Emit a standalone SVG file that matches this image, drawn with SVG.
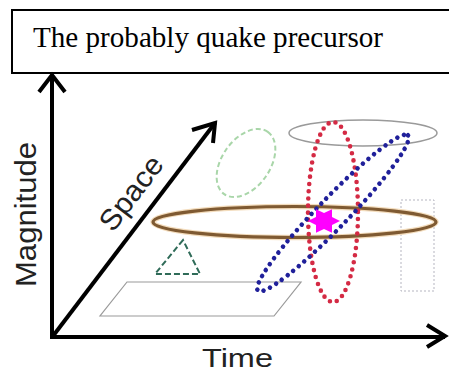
<svg xmlns="http://www.w3.org/2000/svg" width="449" height="372" viewBox="0 0 449 372">
  <style>
    .axis { stroke: #000; stroke-width: 4; fill: none; stroke-linecap: butt; }
    .head { stroke: #000; stroke-width: 4; fill: none; stroke-linejoin: miter; }
    .label { font-family: "Liberation Sans", Arial, sans-serif; fill: #222; }
    .dots { fill: none; stroke-width: 4.6; stroke-linecap: round; stroke-dasharray: 0 7.2; }
  </style>
  <rect width="449" height="372" fill="#fff"/>

  <g id="title">
    <rect x="12" y="10" width="450" height="63" fill="#fff" stroke="#000" stroke-width="2"/>
    <text x="33" y="47" font-family="'Liberation Serif', 'Times New Roman', serif" font-size="29" fill="#000" textLength="350" lengthAdjust="spacingAndGlyphs">The probably quake precursor</text>
  </g>

  <g id="shapes">
    <polygon id="plane" points="127,282 301,282 274,316 100,316" fill="none" stroke="#9a9a9a" stroke-width="1.2"/>
    <polygon id="triangle" points="183,240 155,274 200,274" fill="none" stroke="#2f6b58" stroke-width="2" stroke-dasharray="6,3"/>
    <ellipse id="green-ellipse" cx="246" cy="163" rx="38" ry="24" transform="rotate(-55 246 163)" fill="none" stroke="#a9d6a9" stroke-width="2" stroke-dasharray="5,3"/>
    <rect id="gray-rect" x="401" y="200" width="33" height="91" fill="none" stroke="#b5b5c0" stroke-width="1" stroke-dasharray="2,2"/>
    <g id="brown-ellipse">
      <ellipse cx="294.5" cy="222" rx="141.5" ry="15.5" fill="none" stroke="#f3dcbc" stroke-width="5.5"/>
      <ellipse cx="294.5" cy="222" rx="141.5" ry="15.5" fill="none" stroke="#7f5a32" stroke-width="3.2"/>
    </g>
    <ellipse id="gray-ellipse" cx="363" cy="133" rx="74" ry="13" fill="none" stroke="#9a9a9a" stroke-width="1.5"/>
    <ellipse id="red-ellipse" class="dots" cx="333" cy="212" rx="25" ry="90" stroke="#d42a44"/>
    <ellipse id="blue-ellipse" class="dots" cx="333" cy="213" rx="108" ry="15" transform="rotate(-46 333 213)" stroke="#20209a"/>
    <polygon id="star" fill="#ff00ff" points="340,221 332,217.1 332,209.2 324,213.1 316,209.2 316,217.1 308,221 316,224.9 316,232.8 324,228.9 332,232.8 332,224.9"/>
  </g>

  <g id="axes">
    <line class="axis" x1="52" y1="339" x2="52" y2="75"/>
    <polyline class="head" points="39,92 52,75 65,92"/>
    <line class="axis" x1="50" y1="337" x2="445" y2="337"/>
    <polyline class="head" points="427,325 445,336 427,347"/>
    <line class="axis" stroke-width="3.5" x1="53" y1="336" x2="215" y2="123"/>
    <polyline class="head" stroke-width="3.5" points="192,130 215,123 213,143"/>
  </g>

  <g id="labels">
    <text class="label" font-size="30" text-anchor="middle" transform="translate(36,214.5) rotate(-90)" textLength="145" lengthAdjust="spacingAndGlyphs">Magnitude</text>
    <text class="label" font-size="26" x="202" y="367" textLength="71" lengthAdjust="spacingAndGlyphs">Time</text>
    <text class="label" font-size="29" text-anchor="middle" transform="translate(139,199) rotate(-52.7)" textLength="86" lengthAdjust="spacingAndGlyphs">Space</text>
  </g>
</svg>
